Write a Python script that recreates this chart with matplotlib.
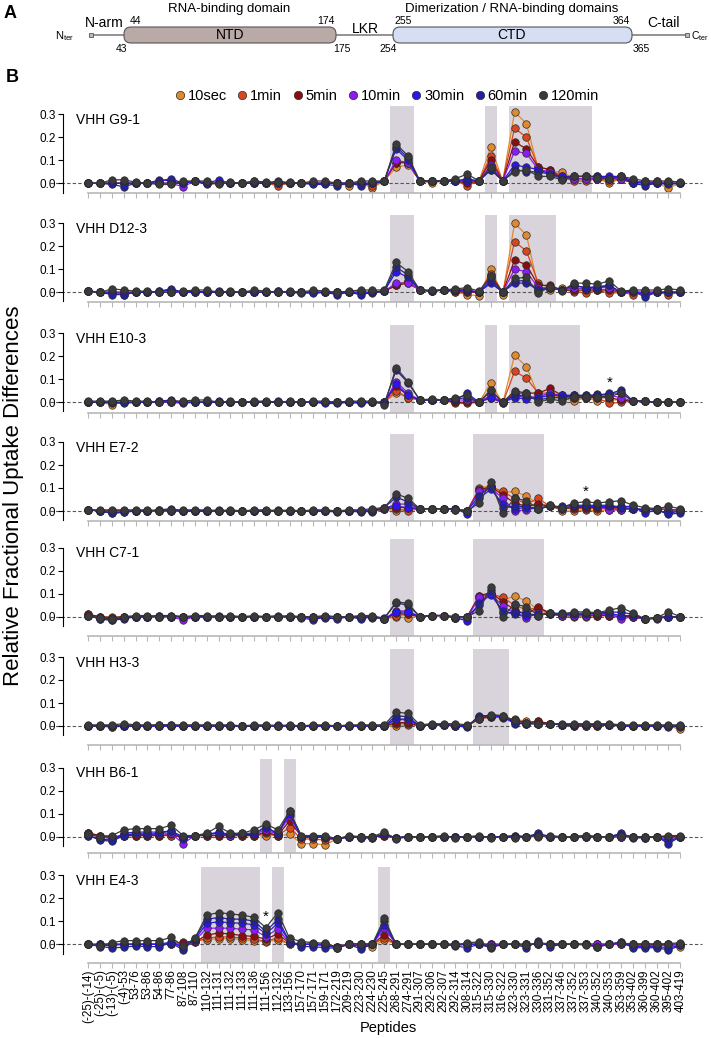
import numpy as np
import matplotlib
matplotlib.use("Agg")
import matplotlib.pyplot as plt
from matplotlib.patches import FancyBboxPatch
from matplotlib.lines import Line2D

plt.rcParams['font.family'] = ['Liberation Sans', 'DejaVu Sans']

# ------------------------------------------------------------------
# data (values in hundredths of relative fractional uptake)
# ------------------------------------------------------------------
peptides = ['(-25)-(-14)', '(-25)-(-5)', '(-13)-(-5)', '(-4)-53', '53-76', '53-86', '54-86',
            '77-86', '87-108', '87-110', '110-132', '111-131', '111-132', '111-133', '111-136',
            '111-156', '112-132', '133-156', '157-170', '157-171', '159-171', '172-219',
            '209-219', '223-230', '224-230', '225-245', '268-291', '274-291', '291-307',
            '292-306', '292-307', '292-314', '308-314', '315-322', '315-330', '316-322',
            '323-330', '323-331', '330-336', '331-352', '337-346', '337-352', '337-353',
            '340-352', '340-353', '353-359', '353-402', '360-399', '360-402', '395-402',
            '403-419']

times = ['10sec', '1min', '5min', '10min', '30min', '60min', '120min']
colors = ['#E0892E', '#D8461F', '#8A0E0E', '#8B1CF2', '#2B16EE', '#22239C', '#3A3A3A']

panels = ['VHH G9-1', 'VHH D12-3', 'VHH E10-3', 'VHH E7-2', 'VHH C7-1', 'VHH H3-3',
          'VHH B6-1', 'VHH E4-3']

G9 = [
    [0,0,0,0,0,0,0,0,0,1, 0,0,0,0,0,0,0,0,0,0, 0,0,-1,0,-2,1,7,8,1,0,
     1,1,1,1,16,1,31,26,6,5, 5,2,2,2,0,2,0,0,0,-2,0],
    [0,0,0,0,0,0,0,0,0,1, 0,0,0,0,0,0,-1,0,0,0, 0,0,0,0,-1,1,9,9,1,1,
     1,1,-1,1,12,1,24,20,7,6, 3,1,1,2,1,2,0,0,0,0,0],
    [0,0,0,0,0,0,0,0,0,1, -0.5,0,0,0,0,0,0,0,0,0, 0,0,0,0,0,1,9,9,1,1,
     1,1,0,1,10,1,18,15,7,6, 2,2,2,2,2,2,0,1,0,0,0],
    [0,0,0,0,0,0,0,0,-1.5,1, 0,0,0,0,0,0,0,0,0,0, 0,0,0,0,0,1,10,9,1,1,
     1,1,1,1,8,1,14,13,6,5, 2,2,2,2,2,2,1,0,1,0,0],
    [0,0,0,0,0,0,1.5,1,0,1, 0,1.5,0,0,1,0,0,0,0,0, 0,0,0,0,0,1,15,10,1,1,
     1,1,1,1,6,1,8,7,6,4, 3,3,3,3,3,3,1,0,0,0,0],
    [0,0,-0.5,-1.5,0,0,1,2,0,1, 0,0,0,0,0,0,1,0,0,-0.5, -0.5,-1,0,-1,0,1,16,11,1,1,
     1,1,2,1,6,1,6,5,5,4, 2,3,3,3,2,3,0,-1,0,-0.5,0],
    [0,0,1.5,1.5,0.5,0,-0.5,-0.5,1,1, 1,-0.5,0.5,0,1,0.5,0.5,0.5,0,1, 1,0,0,1,1,1,17,12,1,1,
     1,2,4,1,7,1,5,6,3,3, 1.5,3,3,2.5,2,3,2,1,1,1,0.5],
]

D12 = [
    [0.5,0,0,0,0,0,0,0,0,0, 0,0,0,0,0,0,0,0,0,0, 0,0,0,0,-0.5,0.5,3,5,1,0.5,
     1,0,-1,-1.5,10,-1,30,25,2,1, 2,0,1,1,1,0,0,0,0,0,0],
    [0.5,0,0,0,0,0,0,0,0,0, 0,0,0,0,0,0,0,0,0,0, 0,0,0,0,0,0.5,3,5,1,0.5,
     1,0,0,0,8,0,22,18,4,2, 1,0.5,-0.5,1,-0.5,0,-1,0,0,-1,0],
    [0.5,0,0,0,0,0,0,0,0,0, 0,0,0,0,0,0,0,0,0,0, 0,0,0,0,0,0.5,3,4,1,0.5,
     1,0.5,0,0,7,0,14,12,3,3, 1,1,1,1,1,0,0,0,0,0,0],
    [0.5,0,0,-0.5,0,0,0,0,0,0, 0,0,0,0,0,0,0,0,-0.5,0, 0,0,0,0,0,0.5,4,4,1,0.5,
     1,1,0.5,0,6,0,10,9,2,2, 1,2,1.5,2,2,0,0,0,0,0,0],
    [0.5,0,-0.5,-1,0,0,0.5,1,0,0, 0,0.5,0,0,0,0,0.5,0,0,0, 0,-0.5,0,-0.5,0,0.5,9,6.5,1,0.5,
     1,1,1,0,4,0,4,4,1,2, 1,3,2,2.5,3,0,0.5,-1,0,0,0],
    [0.5,0,-1,-1,0,0,0.5,1.5,0,0.5, 0,0,0,0,0,0,0.5,0,0,-0.5, 0,-1,0,-1,0,0.5,11,7.5,1,0.5,
     1,1,1,0,5,0,5,5,1,2, 1,3,2,2,3,0,0.5,-2,0,0,0],
    [0.5,0,1.5,1,0.5,0.5,0,0,0.5,1, 1,0,0.5,0,1,0.5,0,0.5,0,1, 0.5,0,0.5,1,1,1,13,9,1,1,
     1,1.5,2,0.5,7,0,6,6.5,-0.5,2.5, 0.5,4,4,3.5,5,0.5,1,1,1,1.5,1],
]

E10 = [
    [0,0,-1,0,0,0,0,0,0,0, 0,0,0,0,0,0,0,0,0,0, 0,0,0,0,0,0,4,2,1,1,
     1,0,0,0,8.5,-0.5,20.5,15.5,3,3, 2,0.5,2,0.5,1,1,0.5,0.5,0,0,0],
    [0,0,-0.5,0,0,0,0,0,0,0, 0,0,0,0,0,0,0,0,0,0, 0,0,0,0,0,0,5,2,1,1,
     1,-0.5,-0.5,0,2,-0.5,13.5,10.5,4,4, 2,2,2,2,-0.5,0,0.5,0.5,0,0,0],
    [0,0,0,0,0,0,0,0,0,0, 0,0,0,0,0,0,0,0,0,0, 0,0,0,0,0,0,7,3,1,1,
     1,0,0,0,3,0,4,4,4,6, 3,2,2,2,2,1,0.5,0.5,0,0,0],
    [0,0,0,0,0,0,0,0,-0.5,0, 0,0,0,0,0,0,0,0,0,0, 0,0,0,0,0,0,9,4,1,1,
     1,1,1,0,3,0,3,2,2.5,4, 3,3,2.5,3.5,3,2,0.5,0.5,0,0,0],
    [0,0,0,0,0,0,0.5,0.5,0,0, 0,0.5,0,0,0,0,0,0,0,0, 0,0,0,0,0,0,8,3,1,1,
     1,1,4,0,2,0,2,1.5,2,3, 3,3,3,3,4,4,0.5,0.5,0,0,0],
    [0,0,0,-0.5,0,0,0.5,1,0,0, 0,0,0,0,0,0,0.5,0,0,0, -0.5,-0.5,0,-0.5,0,-0.5,14,8.5,1,1,
     1,1.5,2,0,5,0,3,3,1,2, 2,3,3,3,3.5,5.5,0.5,0.5,0,0,0],
    [0.5,0.5,0.5,1,0.5,0.5,0,0.5,0.5,1, 1,0,0.5,0,0.5,0.5,0,0.5,0,0.5, 0.5,0,0.5,0.5,0.5,-1,15,9,1,1.5,
     1,2,3,0,5.5,0,5,4,0,1.5, 0.5,2.5,2.5,2.5,2.5,4,0.5,0.5,0,0,0],
]

E7 = [
    [0.5,0,0,0,0,0,0,0,0,0, 0,0,0,0,0,0,0,0,0,0, 0,0,0,0,-0.5,1,0,1,1,1,
     1,1,0,10,11,8,8.5,6.5,3,2.5, 0,0,0.5,0,0.5,0.5,1,0.5,1,0.5,0.5],
    [0.5,0,0,0,0,0,0,0,0,0, 0,0,0,0,0,0,0,0,0,0, 0,0,0,0,0,1,1,0,1,1,
     1,1,0,9.5,10.5,8.5,5.5,3,5.5,2, 1,1,1,1,1,1,1,0.5,1,0.5,0.5],
    [0.5,0,0,0,0,0,0,0,0,0, 0,0,0,0,0,0,0,0,0,0, 0,0,0,0,0,1,1.5,1.5,1,1,
     1,1,0,9,10.5,7,3.5,2,3,2, 1,1.5,1.5,1.5,1.5,1.5,1,0.5,1,0.5,0.5],
    [0.5,0,-0.5,0,0,0,0,0,0,0, 0,0,0,0,0,0,0,0,0,0, 0,0,0,0,0,1,3,3,1,1,
     1,1,0,8.5,10,5.5,0,0.5,1.5,2, 1,2,2,2,0.5,0.5,1,0.5,1,0.5,0.5],
    [0.5,0,-1,-0.5,0,0,0.5,0.5,0,0, 0,0.5,0,0,0,0,0,0,0,0, 0,0,0,0,0,1.5,2,1.5,1,1,
     1,1,-1.3,5.5,9.5,3,1,1.5,1,2, 1.5,2,2,2,2,2,2,-1,0.5,-1,0],
    [0.5,0,-1,-0.5,0,0,0.5,1,0,0, 0,0,0,0,0,0,0.5,0,0,0, 0,-0.5,0,-0.5,0,1.5,6,4,1,1,
     1,0.5,0,6.5,11,1.5,2,2,1,2, 2,2.5,2.5,2.5,2.5,1.5,1,0.5,0.5,-1.5,-0.8],
    [0.5,0.5,0.5,0.5,0.5,0.5,0,0.5,0.5,0.5, 0.5,0,0.5,0,0.5,0.5,0,0.5,0,0.5, 0.5,0,0.5,0.5,1,1.5,7.5,5.5,1,1,
     1,0.5,0,3.5,12.5,-1,5.5,4.5,1,2.5, 1.5,3.5,4,3.5,4,4.5,2.5,1.5,1,2,1],
]

C7 = [
    [0.5,0,0,0,0,0,0,0,0,0, 0,0,0,0,0,0,0,0,0,0, 0,0,0,0,-0.5,-1,0,-0.5,0,0.5,
     0.5,-0.5,0,8,10,7,9,6.8,3,1, 0.5,0,0,0.5,0.5,0,0,-1,-0.5,0,0],
    [1,0,-0.5,0,0,0,0,0,0,0, 0,0,0,0,0,0,0,0,0,0, 0,0,0,0,0,-1,0.5,1,0,0.5,
     0.5,-0.5,0,8.8,10,8.4,5,3,4,1, 0.5,0.5,0.5,0.5,0.5,0,0,-1,-0.5,0,0],
    [1,0,-0.5,0,0,0,0,0,0,0, 0,0,0,0,0,0,0,0,0,0, 0,0,0,0,0,-1,1.5,1,0,0.5,
     0.5,-0.5,0,9.1,10.5,6.5,3,1,4.2,1.5, 0.5,0.5,0.5,0.5,0.5,0,0,-1,-0.5,0,0],
    [0.5,-0.5,-1,-0.5,0,0,0,0,-1.5,0, 0,0,0,0,0,0,0,0,-0.5,-1.5, 0,0,0,-0.5,0,-1,2.5,2.5,0,0.5,
     0.5,-0.5,-0.5,8.5,10,4.6,1.5,-0.5,1.5,1, 0.5,0.5,0.5,1,1,-1,0,-1,-1,0,0],
    [0.5,-1,-1.5,-0.5,0,0,0.5,0,0,0, 0,0.5,0,0,0,0,0,0,0,-1, 0,0,0,-0.5,0,-1,2,2,0,0.5,
     0.5,-0.5,-1.8,5.8,9.5,2.5,1,0.5,1,1, 1,1,1,1.5,1.5,0.5,0.5,-1,-0.5,0,0],
    [0.5,-1,-1.5,-1,0,0,0.5,0.5,0,0, 0,0,0,0,0,0,0.5,0,0,-0.5, -0.5,-1,0,-1,0,-0.5,6,5,0,0.5,
     0.5,0,0,5,11.5,1.5,2,1.5,0.5,1.5, 1.5,1.5,1.5,1.5,2,2,1,-1,-0.5,0,0],
    [0.5,-0.5,-1,0,0.5,0.5,0,0.5,0,0.5, 0.5,0,0.5,0,0.5,0,0,0.5,0,0, 0.5,0,0,0.5,0.5,-1,6.5,5.8,0,0.5,
     0.5,0,0,2.6,13,0,5.4,4.4,0.5,1.7, 1,2.1,2.1,1.7,2.9,3.9,1.7,-1,-0.5,2.1,0],
]

H3 = [
    [0,0,-0.5,0,0,0,0,0,0,0, 0,0,0,0,0,0,0,0,0,0, 0,0,0,0,0,0,0,0.5,0,0.5,
     0.5,0,0,3,4,3.5,3,2,1.5,1, 0.5,0,0,0,0.5,0,0,0,0,0,-1.5],
    [0,0,-0.5,0,0,0,0,0,0,0, 0,0,0,0,0,0,0,0,0,0, 0,0,0,0,0,0,1,1,0,0.5,
     0.5,0,0,3,4,4,2.5,1.5,2,1, 0.5,0,0,0,0.5,0,0,0,0,0,-0.5],
    [0,0,0,0,0,0,0,0,0,0, 0,0,0,0,0,0,0,0,0,0, 0,0,0,0,0,0,1.5,1.5,0,0.5,
     0.5,0,0,3.5,4,4,2,1.5,2,1, 0.5,0,0,0,0.5,0,0,0,0,0,0],
    [0,0,0,0,0,0,0,0,0,0, 0,0,0,0,0,0,0,0,0,0, 0,0,0,0,0,0,3,2.5,0,0.5,
     0.5,0,0,4,4.5,4,1.5,1,1,1, 0.5,0.5,0,0.5,0.5,0,0,0,0,0,0],
    [0,0,0,0,0,0,0,0,0,0, 0,0,0,0,0,0,0,0,0,0, 0,0,0,0,0,0,3,3,0,0.5,
     0.5,0,-0.5,4.5,4.5,4,1,1,1,1, 0.5,0.5,0.5,0.5,0.5,0,0,0,0,0,0],
    [0,0,0,0,0,0,0.5,0.5,0,0, 0,0,0,0,0,0,0.5,0,0,0, 0,0,0,0,0,0,4.5,4,0,0.5,
     0.5,0.5,0,4,4.5,4.5,1.5,1,1,1, 0.5,0.5,0.5,0.5,0.5,0,0,0,0,-0.5,0],
    [0.5,0.5,0.5,1,0.5,0.5,0.5,0.5,0.5,0.5, 0.5,0.5,0.5,0,0.5,0.5,0,0.5,0,0.5, 0.5,0,0.5,0.5,0.5,0.5,6,5.5,0.5,1,
     1,1,0.5,3,5,4.5,2.5,1.5,1,1, 1,1,1,1,1,0.5,0.5,0.5,0.5,0.5,0.5],
]

B6 = [
    [1.5,0.5,0,0.5,0.5,0.5,0.5,0.5,0,0.5, 0.5,0.5,0.5,0.5,0.5,0.5,0.5,1,-3,-3, -3.5,-1,0,0,0,0.5,-0.5,0,0,0,
     0,0,0,0,0,0,0,0,0,0, 0,0,0,0,0,0,0,0,0,0,0],
    [1.5,0.5,0,0.5,0.5,0.5,0.5,0.5,0,0.5, 0.5,0.5,0.5,0.5,0.5,1.5,0.5,4,-1,-1, -1.5,-1,0,0,0,0.5,-0.5,0,0,0,
     0,0,0,0,0,0,0.5,0,0.5,0, 0,0,0.5,0,0,0,0,0,0,0,0],
    [1.5,0.5,-0.5,0.5,0.5,0.5,0.5,1,-0.5,0.5, 0.5,0.5,0.5,0.5,0.5,2,0.5,7,0,0, -0.5,-1,0,0,0,0.5,-0.5,0,0,0,
     0,0,0,0,0,0,0.5,0,0.5,0, 0,0,0.5,0,0,0,0,0,0,0,0],
    [1,0,-1,1,1,1,1,1.5,-3,0.5, 1,1.5,0.5,1,1,3,1,9,0,0, 0,-1,0,0,0,1,-0.5,0,0,0,
     0,0,0,0,0,0,0,0,0.5,0, 0,0,0,0,0,0,0,-0.5,0,-1,0],
    [0.5,-1,-1.5,1.5,2,2,2,2.5,-1,0.5, 1,2,1,1.5,1.5,4,1.5,10,0,0, 0,-1,0,-0.5,-0.5,1,-0.5,0,0,0,
     0,0,0,0,0,0,0,0,1,0, 0,0,0,0,0,1,0,-0.5,0,-2,0],
    [0.5,-1.5,-2,0.5,1.5,1,1.5,2.5,0,0.5, 1,1.5,1,1,1,4.5,1,11,0,0, 0,-1,0,-0.5,-0.5,1,-0.5,0,0,0,
     0,0,0,0,0,0,0,0,1.5,0, 0,0,0,0,0,1.5,-0.5,-0.5,0,-3,0],
    [1,0,0.5,3,3.5,3.5,3.5,5,0.5,0.5, 1.5,4.5,1.5,1.5,3,5.5,3,11,0.5,0.5, 0.5,-1,0.5,0,0,2,-1,0,0,0,
     0.5,-0.5,0,0.5,-0.5,0,-0.5,0,0.5,0.5, 0,0,0.5,0,0,0.5,0,0,0,0.5,0.5],
]

E4 = [
    [0,0,0,0,0,0,0,0,0,1.5, 2,2.5,2.5,2,1.5,1,2,0,0,0, 0,-1,0,0,-1,2,0,0,0,0,
     0,0,0,0,0,0,0,0,0,0, 0,0,0,0,0,0,0,0,0,0,-1],
    [0,0,0,0,0,0,0,0,0,1, 2.7,3.2,3.2,2.7,2.2,1.4,2.8,0,0,0, 0,-1,0,0,0,2.8,0,0,0,0,
     0,0,0,0,0,0,0,0,0,0, 0,0,0,0,0,0,0,0,0,0,0],
    [0,0,0,0,0,0,0,0,1.2,1, 4,4.9,4.5,3.8,3.4,2.3,4.5,0.5,0,0, 0,-1,0,0,0,4.2,0,0,0,0,
     0,0,0,0,0,0,0,0,0,0, 0,0,0,0,0,0,0,0,0,0,0],
    [0,-0.5,0,0,0,0,0,0.5,-0.5,1.5, 7,7,7,6.5,6.3,3.3,6.8,0.5,0,0, -0.5,-1,0,-0.5,0,7,0,0,0,0,
     0,0,0,0,-0.5,0,0,0,0,0, 0,0,0,0,0,0,-0.5,-0.5,-0.5,-0.5,0],
    [0,-0.5,-0.5,0,0,0,0,1,-1.5,2, 9.1,9.8,9.4,9.1,8.5,4.5,9.1,1,0,0, -0.5,-1.5,0,-1,0,8.5,0,0,0,0,
     0,-0.5,0,0,-1,0,0,-0.5,0.5,0, 0,0,0,-1,0,1,-1,-1,-1,-1.5,-0.5],
    [0,-1,-1.5,-1.3,-0.7,-1,-1,0.7,-2.5,2.5, 10.9,11.6,11,10.9,10.1,5.5,11,1.2,-1,-1, -1.5,-1.7,0,-2,0,10,0,0,0,0,
     0,-0.7,-1.5,0,-1.5,0,0,-1.5,1.4,-1, 0,0,0,-1.2,0,1,-1.5,-1.5,-1.5,-2.5,-0.5],
    [0,-0.7,0.7,1.6,1.6,1.6,1.6,3,-0.7,2.6, 12.7,13.8,13.2,12.7,11.7,7.2,13.8,2.6,1.2,0.7, 0.5,-1.5,0.3,0.2,0.2,11.3,0,0,0,0,
     0,-0.5,0.7,1,-1,0,0,-0.3,0.5,0.3, 0,0,-0.3,-1,0,0.7,0,0.3,0,0.3,0.7],
]

panel_data = [G9, D12, E10, E7, C7, H3, B6, E4]

# shaded peptide ranges (in peptide index units) per panel
shades = [
    [(25.5, 27.5), (33.5, 34.5), (35.5, 42.5)],
    [(25.5, 27.5), (33.5, 34.5), (35.5, 39.5)],
    [(25.5, 27.5), (33.5, 34.5), (35.5, 41.5)],
    [(25.5, 27.5), (32.5, 38.5)],
    [(25.5, 27.5), (32.5, 38.5)],
    [(25.5, 27.5), (32.5, 35.5)],
    [(14.5, 15.5), (16.5, 17.5)],
    [(9.5, 14.5), (15.5, 16.5), (24.5, 25.5)],
]

# asterisks: (panel, peptide index, height)
stars = [(2, 44, 0.085), (3, 42, 0.085), (7, 15, 0.12)]

# ------------------------------------------------------------------
# layout
# ------------------------------------------------------------------
W, H = 711, 1038
fig = plt.figure(figsize=(W / 100, H / 100), dpi=100)

baselines = [183.3, 292.3, 402.3, 511.0, 616.7, 726.0, 836.7, 944.3]
xaxis_pos = [-0.043, -0.043, -0.045, -0.042, -0.085, -0.083, -0.072, -0.082]
ppu = 230.0            # pixels per unit on y
ylo, yhi = -0.10, 0.34
x0px, x1px = 63.3, 702.0
xlo, xhi = -2.11, 51.83
shade_col = '#d9d3db'

x = np.arange(len(peptides))

for k, name in enumerate(panels):
    b = baselines[k]
    top = b - yhi * ppu
    bot = b - ylo * ppu
    ax = fig.add_axes([x0px / W, 1 - bot / H, (x1px - x0px) / W, (bot - top) / H])
    ax.set_xlim(xlo, xhi)
    ax.set_ylim(ylo, yhi)
    ax.patch.set_alpha(0)

    for a, c in shades[k]:
        ax.fill_between([a, c], xaxis_pos[k], 0.336, color=shade_col, lw=0, zorder=0)

    ax.plot([-3.25, 51.8], [0, 0], ls=(0, (3, 2)), color='#555555', lw=0.8,
            clip_on=False, zorder=1)

    for s, (t, col) in enumerate(zip(times, colors)):
        vals = np.array(panel_data[k][s]) / 100.0
        ax.plot(x, vals, '-', color=col, lw=0.9, zorder=2 + s)
        ax.plot(x, vals, 'o', ms=5.4, mfc=col, mec='#2a2a2a', mew=0.5, zorder=2 + s)

    ax.text(-1.04, 0.275, name, fontsize=10, ha='left', va='center')

    for (pk, pi, h) in stars:
        if pk == k:
            ax.text(pi, h, '*', fontsize=11, ha='center', va='center')

    for sp in ['top', 'right']:
        ax.spines[sp].set_visible(False)
    ax.spines['left'].set_bounds(-0.04, 0.3)
    ax.spines['left'].set_linewidth(0.8)
    ax.spines['bottom'].set_position(('data', xaxis_pos[k]))
    ax.spines['bottom'].set_bounds(0, 50)
    ax.spines['bottom'].set_color('#b8b8b8')
    ax.spines['bottom'].set_linewidth(1.2)

    ax.set_yticks([0, 0.1, 0.2, 0.3])
    ax.set_yticklabels(['0.0', '0.1', '0.2', '0.3'])
    ax.tick_params(axis='y', direction='out', length=3.5, width=0.8, labelsize=8.5, pad=2)
    ax.set_xticks(x)
    ax.tick_params(axis='x', direction='out', length=3.5, width=0.8, color='#b8b8b8', pad=1)
    if k == len(panels) - 1:
        ax.set_xticklabels(peptides, rotation=90, fontsize=8.4)
    else:
        ax.set_xticklabels([])

fig.text(14 / W, 1 - 496 / H, 'Relative Fractional Uptake Differences', rotation=90,
         fontsize=16, ha='center', va='center')
fig.text(388 / W, 1 - 1028 / H, 'Peptides', fontsize=10.5, ha='center', va='center')

# legend
handles = [Line2D([], [], ls='none', marker='o', ms=6, mfc=c, mec='#2a2a2a', mew=0.5)
           for c in colors]
fig.legend(handles, times, loc='center', bbox_to_anchor=(387 / W, 1 - 96 / H), ncol=7,
           frameon=False, fontsize=10.5, handlelength=0.7, handletextpad=0.2,
           columnspacing=0.7, borderpad=0)

fig.text(12 / W, 1 - 77 / H, 'B', fontsize=13, fontweight='bold', ha='center', va='center')

# ------------------------------------------------------------------
# panel A: domain diagram (pixel coordinates)
# ------------------------------------------------------------------
axd = fig.add_axes([0, 1 - 62 / H, 1, 62 / H])
axd.set_xlim(0, W)
axd.set_ylim(62, 0)
axd.axis('off')

axd.plot([91, 687], [35, 35], color='#808080', lw=1.2, zorder=1)
axd.plot([91, 687], [35, 35], ls='none', marker='s', ms=3.5, mfc='#bbbbbb', mec='#555555',
         mew=0.6, zorder=3)
axd.add_patch(FancyBboxPatch((124, 27), 212, 16, boxstyle='round,pad=0,rounding_size=7',
                             fc='#b9aaa7', ec='#555555', lw=0.8, zorder=2))
axd.add_patch(FancyBboxPatch((393, 27), 239, 16, boxstyle='round,pad=0,rounding_size=7',
                             fc='#d5def2', ec='#555555', lw=0.8, zorder=2))
axd.text(230, 35, 'NTD', fontsize=10, ha='center', va='center')
axd.text(512, 35, 'CTD', fontsize=10, ha='center', va='center')
axd.text(229, 9, 'RNA-binding domain', fontsize=9.5, ha='center', va='center')
axd.text(512, 9, 'Dimerization / RNA-binding domains', fontsize=9.5, ha='center', va='center')
axd.text(104, 23, 'N-arm', fontsize=10, ha='center', va='center')
axd.text(365, 29, 'LKR', fontsize=10, ha='center', va='center')
axd.text(664, 23, 'C-tail', fontsize=10, ha='center', va='center')
axd.text(135, 21, '44', fontsize=7.5, ha='center', va='center')
axd.text(326, 21, '174', fontsize=7.5, ha='center', va='center')
axd.text(122, 49, '43', fontsize=7.5, ha='center', va='center')
axd.text(342, 49, '175', fontsize=7.5, ha='center', va='center')
axd.text(403, 21, '255', fontsize=7.5, ha='center', va='center')
axd.text(621, 21, '364', fontsize=7.5, ha='center', va='center')
axd.text(388, 49, '254', fontsize=7.5, ha='center', va='center')
axd.text(641, 49, '365', fontsize=7.5, ha='center', va='center')
axd.text(65, 36, r'N$_{\mathregular{ter}}$', fontsize=8, ha='center', va='center')
axd.text(700, 36, r'C$_{\mathregular{ter}}$', fontsize=7.5, ha='center', va='center')
axd.text(10, 13, 'A', fontsize=13, fontweight='bold', ha='center', va='center')

fig.savefig('out.png', dpi=100)
